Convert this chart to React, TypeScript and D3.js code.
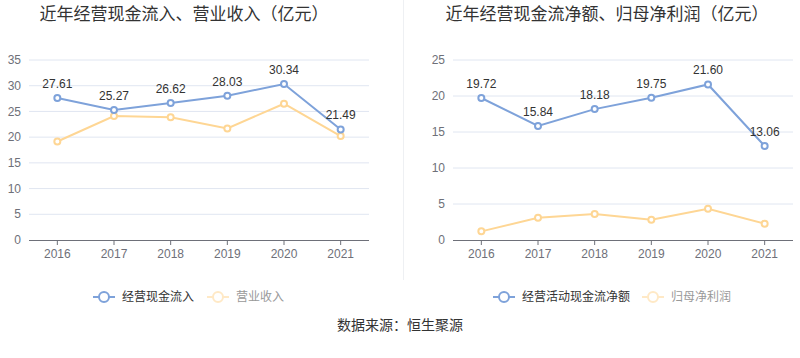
import React from "react";
import * as d3 from "d3";

const years = ["2016", "2017", "2018", "2019", "2020", "2021"];
const cashInflow = [27.61, 25.27, 26.62, 28.03, 30.34, 21.49];
const revenue = [19.15, 24.1, 23.85, 21.7, 26.5, 20.2];
const netCashFlow = [19.72, 15.84, 18.18, 19.75, 21.6, 13.06];
const netProfit = [1.2, 3.1, 3.6, 2.8, 4.35, 2.26];
const leftTicks = [0, 5, 10, 15, 20, 25, 30, 35];
const rightTicks = [0, 5, 10, 15, 20, 25];

const BLUE = "#7ea2da";
const ORANGE = "#fed694";
const FONT = "'Liberation Sans', 'Noto Sans CJK SC', sans-serif";
const CJK = "'Noto Sans CJK SC', 'Liberation Sans', sans-serif";

type PanelProps = {
  x0: number;
  x1: number;
  yMax: number;
  ticks: number[];
  main: number[];
  sub: number[];
  title: string;
  titleX: number;
  mainName: string;
  subName: string;
  legendX: number;
  legend2X: number;
};

function Panel(p: PanelProps) {
  const top = 60;
  const bottom = 240;
  const x = d3.scaleBand<string>().domain(years).range([p.x0, p.x1]);
  const y = d3.scaleLinear().domain([0, p.yMax]).range([bottom, top]);
  const cx = (d: string) => (x(d) as number) + x.bandwidth() / 2;
  const line = d3
    .line<number>()
    .x((_, i) => cx(years[i]))
    .y((v) => y(v));
  return (
    <g>
      <text x={p.titleX} y={20} textAnchor="middle" fontSize={17} fill="#333" fontFamily={CJK}>
        {p.title}
      </text>
      {p.ticks.map((t) => (
        <g key={t}>
          {t > 0 && (
            <line x1={p.x0} x2={p.x1} y1={y(t)} y2={y(t)} stroke="#e0e6f1" strokeWidth={1} />
          )}
          <text x={p.x0 - 8} y={y(t)} dy="0.35em" textAnchor="end" fontSize={12} fill="#6e7079" fontFamily={FONT}>
            {t}
          </text>
        </g>
      ))}
      <line x1={p.x0} x2={p.x1} y1={bottom + 0.5} y2={bottom + 0.5} stroke="#6e7079" strokeWidth={1} />
      {years.map((yr) => (
        <g key={yr}>
          <line x1={cx(yr)} x2={cx(yr)} y1={bottom} y2={bottom + 5} stroke="#6e7079" />
          <text x={cx(yr)} y={bottom + 18} textAnchor="middle" fontSize={12} fill="#6e7079" fontFamily={FONT}>
            {yr}
          </text>
        </g>
      ))}
      <path d={line(p.sub) || ""} fill="none" stroke={ORANGE} strokeWidth={2} />
      {p.sub.map((v, i) => (
        <circle key={i} cx={cx(years[i])} cy={y(v)} r={3} fill="#fff" stroke={ORANGE} strokeWidth={2} />
      ))}
      <path d={line(p.main) || ""} fill="none" stroke={BLUE} strokeWidth={2} />
      {p.main.map((v, i) => (
        <g key={i}>
          <circle cx={cx(years[i])} cy={y(v)} r={3} fill="#fff" stroke={BLUE} strokeWidth={2} />
          <text x={cx(years[i])} y={y(v) - 10} textAnchor="middle" fontSize={12} fill="#333" fontFamily={FONT}>
            {v.toFixed(2)}
          </text>
        </g>
      ))}
      <g transform={`translate(${p.legendX},297)`}>
        <line x1={0} x2={22} y1={0} y2={0} stroke={BLUE} strokeWidth={2} />
        <circle cx={11} cy={0} r={5} fill="#fff" stroke={BLUE} strokeWidth={2} />
        <text x={29} y={0} dy="0.35em" fontSize={12} fill="#333" fontFamily={CJK}>
          {p.mainName}
        </text>
      </g>
      <g transform={`translate(${p.legend2X},297)`}>
        <line x1={0} x2={22} y1={0} y2={0} stroke="#ffe9c6" strokeWidth={2} />
        <circle cx={11} cy={0} r={5} fill="#fff" stroke="#ffe9c6" strokeWidth={2} />
        <text x={29} y={0} dy="0.35em" fontSize={12} fill="#999" fontFamily={CJK}>
          {p.subName}
        </text>
      </g>
    </g>
  );
}

export default function App() {
  return (
    <svg width={800} height={358} style={{ position: "absolute", left: 0, top: 0, background: "#fff" }}>
      <rect width={800} height={358} fill="#fff" />
      <line x1={403.5} x2={403.5} y1={0} y2={280} stroke="#eef0f3" strokeWidth={1} />
      <Panel
        x0={29}
        x1={369}
        yMax={35}
        ticks={leftTicks}
        main={cashInflow}
        sub={revenue}
        title="近年经营现金流入、营业收入（亿元）"
        titleX={184}
        mainName="经营现金流入"
        subName="营业收入"
        legendX={93}
        legend2X={207}
      />
      <Panel
        x0={453}
        x1={793}
        yMax={25}
        ticks={rightTicks}
        main={netCashFlow}
        sub={netProfit}
        title="近年经营现金流净额、归母净利润（亿元）"
        titleX={607}
        mainName="经营活动现金流净额"
        subName="归母净利润"
        legendX={493}
        legend2X={642}
      />
      <text x={400} y={325} dy="0.35em" textAnchor="middle" fontSize={14} fill="#333" fontFamily={CJK}>
        数据来源：恒生聚源
      </text>
    </svg>
  );
}
